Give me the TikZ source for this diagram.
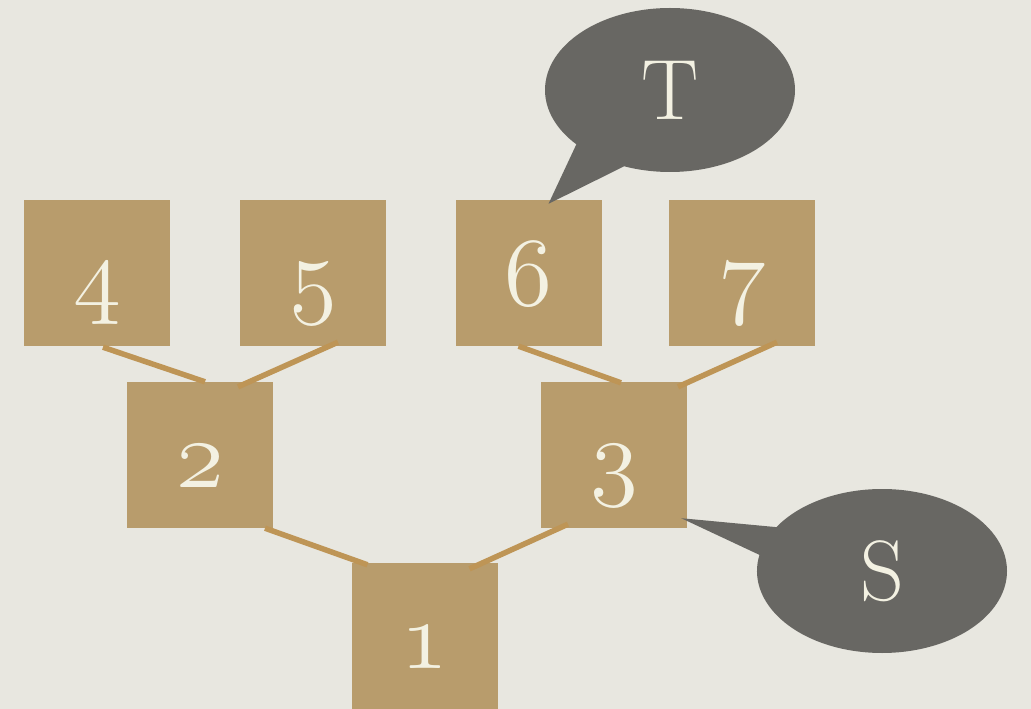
\RequirePackage{fix-cm}
\documentclass[tikz,border=0pt]{standalone}
\usetikzlibrary{calc,shapes.callouts}
\definecolor{bgc}{HTML}{E8E7E0}
\definecolor{boxc}{HTML}{B89C6C}
\definecolor{linec}{HTML}{BE9556}
\definecolor{bubc}{HTML}{686763}
\definecolor{txtc}{HTML}{F3F1E2}
\tikzset{
  numbox/.style={fill=boxc, minimum width=146bp, minimum height=146bp, inner sep=0pt,
    text=txtc, text height=64bp, text depth=0bp, font=\fontsize{98}{98}\selectfont},
  link/.style={draw=linec, line width=5.5bp},
  bubble/.style={ellipse callout, fill=bubc, minimum width=250bp, minimum height=164bp,
    inner sep=0pt, text=txtc, font=\fontsize{86}{86}\selectfont},
}
\newcommand{\osn}[1]{$\mathnormal{#1}$}
\begin{document}
\begin{tikzpicture}[x=1bp,y=-1bp]
\fill[bgc] (0,0) rectangle (1031,709);
\useasboundingbox (0,0) rectangle (1031,709);
% boxes
\node[numbox] (b4) at (97,273) {\osn{4}};
\node[numbox] (b5) at (313,273) {\osn{5}};
\node[numbox] (b6) at (528.5,273) {\osn{6}};
\node[numbox] (b7) at (742,273) {\osn{7}};
\node[numbox] (b2) at (200,455) {\osn{2}};
\node[numbox] (b3) at (614,455) {\osn{3}};
\node[numbox] (b1) at (424.5,636) {\osn{1}};
% links
\draw[link] ($(b4.south)+(6,1)$) -- ($(b2.north)+(5,0)$);
\draw[link] ($(b5.south)+(25,-4)$) -- ($(b2.north)+(38,5)$);
\draw[link] ($(b6.south)+(-10,0)$) -- ($(b3.north)+(7,1)$);
\draw[link] ($(b7.south)+(35,-4)$) -- ($(b3.north)+(64,5)$);
\draw[link] ($(b2.south)+(65,0)$) -- ($(b1.north)+(-57,2)$);
\draw[link] ($(b3.south)+(-46,-4)$) -- ($(b1.north)+(45,6)$);
% callouts
\node[bubble, callout absolute pointer={($(b6.north)+(20,4)$)}, callout pointer arc=27] (t) at (670,90) {T};
\node[bubble, callout absolute pointer={($(b3.south east)+(-6,-10)$)}, callout pointer arc=21] (s) at (882,571) {S};
\end{tikzpicture}
\end{document}
